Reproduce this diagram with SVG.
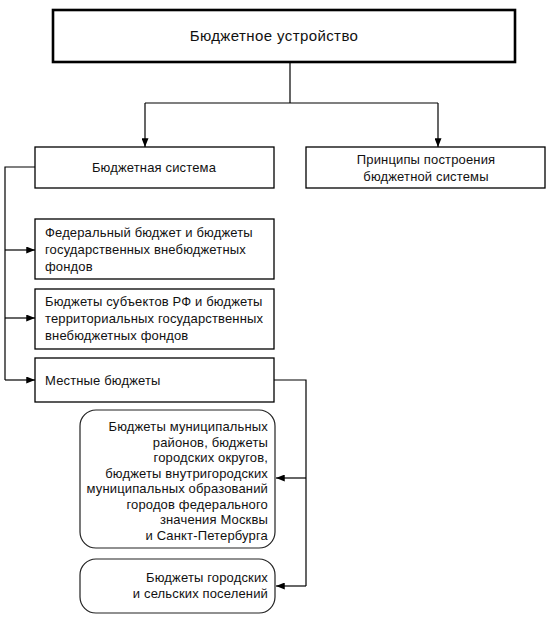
<svg xmlns="http://www.w3.org/2000/svg" width="555" height="632" viewBox="0 0 555 632">
<style>
text{font-family:"Liberation Sans",Arial,sans-serif;font-size:13px;letter-spacing:0.15px;fill:#111}
.box{fill:#fff;stroke:#000;stroke-width:1.3}
.rbox{fill:#fff;stroke:#222;stroke-width:1.2}
.ln{fill:none;stroke:#000;stroke-width:1.2}
.c{text-anchor:middle}
.r{text-anchor:end}
</style>
<defs>
<marker id="ah" viewBox="0 0 10 8" refX="10" refY="4" markerWidth="10" markerHeight="7" markerUnits="userSpaceOnUse" orient="auto">
<path d="M0,0 L10,4 L0,8 Z" fill="#000"/>
</marker>
</defs>
<g id="connectors">
<path class="ln" d="M290,62 V103 M145,103 H438"/>
<path class="ln" d="M145,103 V147" marker-end="url(#ah)"/>
<path class="ln" d="M438,103 V147" marker-end="url(#ah)"/>
<path class="ln" d="M35,167 H5 V380"/>
<path class="ln" d="M5,250 H35" marker-end="url(#ah)"/>
<path class="ln" d="M5,318 H35" marker-end="url(#ah)"/>
<path class="ln" d="M5,380 H35" marker-end="url(#ah)"/>
<path class="ln" d="M274,380 H306 V586"/>
<path class="ln" d="M306,478 H276" marker-end="url(#ah)"/>
<path class="ln" d="M306,586 H276" marker-end="url(#ah)"/>
</g>
<g id="n-root">
<rect x="53" y="10" width="462" height="52" fill="#fff" stroke="#000" stroke-width="2.6"/>
<text class="c" x="274" y="41" style="font-size:15px;letter-spacing:0.4px">Бюджетное устройство</text>
</g>
<g id="n-system">
<rect class="box" x="35" y="147" width="239" height="41"/>
<text class="c" x="154" y="172">Бюджетная система</text>
</g>
<g id="n-principles">
<rect class="box" x="306" y="147" width="239" height="41"/>
<text class="c" x="426" y="164">Принципы построения</text>
<text class="c" x="426" y="181">бюджетной системы</text>
</g>
<g id="n-federal">
<rect class="box" x="35" y="219" width="239" height="60"/>
<text x="45" y="237">Федеральный бюджет и бюджеты</text>
<text x="45" y="254">государственных внебюджетных</text>
<text x="45" y="271">фондов</text>
</g>
<g id="n-subjects">
<rect class="box" x="35" y="289" width="239" height="60"/>
<text x="45" y="306">Бюджеты субъектов РФ и бюджеты</text>
<text x="45" y="323">территориальных государственных</text>
<text x="45" y="340">внебюджетных фондов</text>
</g>
<g id="n-local">
<rect class="box" x="35" y="358" width="239" height="44"/>
<text x="45" y="385">Местные бюджеты</text>
</g>
<g id="n-municipal">
<rect class="rbox" x="80" y="410" width="195" height="138" rx="16"/>
<text class="r" x="268" y="431">Бюджеты муниципальных</text>
<text class="r" x="268" y="446.5">районов, бюджеты</text>
<text class="r" x="268" y="462">городских округов,</text>
<text class="r" x="268" y="477.5">бюджеты внутригородских</text>
<text class="r" x="268" y="493">муниципальных образований</text>
<text class="r" x="268" y="508.5">городов федерального</text>
<text class="r" x="268" y="524">значения Москвы</text>
<text class="r" x="268" y="539.5">и Санкт-Петербурга</text>
</g>
<g id="n-settlements">
<rect class="rbox" x="80" y="559" width="195" height="54" rx="16"/>
<text class="r" x="268" y="582">Бюджеты городских</text>
<text class="r" x="268" y="598">и сельских поселений</text>
</g>
</svg>
